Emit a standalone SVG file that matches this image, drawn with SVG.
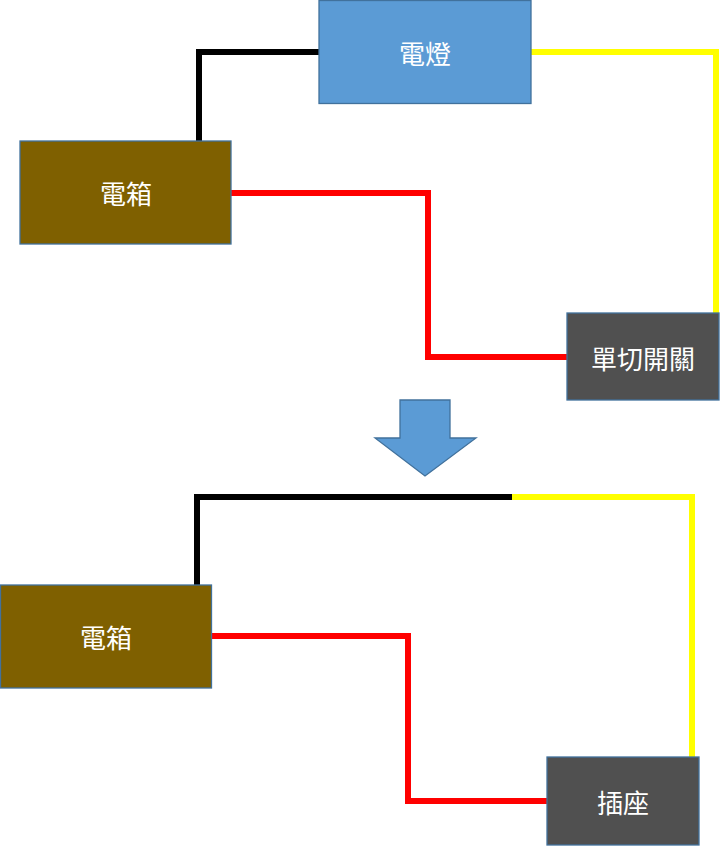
<svg xmlns="http://www.w3.org/2000/svg" width="720" height="847" viewBox="0 0 720 847">
<style>
.w{fill:none;stroke-width:6}
.k{stroke:#000}.y{stroke:#ffff00}.r{stroke:#ff0000}
.box{stroke:#41719c;stroke-width:1.3}
.t{font-family:"Noto Sans CJK TC","Noto Sans CJK SC",sans-serif;font-size:26px;fill:#fff;text-anchor:middle;dominant-baseline:central}
</style>
<rect width="720" height="847" fill="#fff"/>
<g id="connectors">
<polyline class="w k" points="199,141 199,52 319,52"/>
<polyline class="w y" points="531,52 716,52 716,313"/>
<polyline class="w r" points="231,193 428,193 428,357 567,357"/>
<polyline class="w k" points="197,585 197,497 512,497"/>
<polyline class="w y" points="512,497 692,497 692,757"/>
<polyline class="w r" points="211,636 408,636 408,801 547,801"/>
</g>
<g id="lamp"><rect class="box" x="319" y="0.5" width="212" height="103" fill="#5b9bd5"/><text class="t" x="425" y="52">電燈</text></g>
<g id="box1"><rect class="box" x="20" y="141" width="211" height="103" fill="#7f6000"/><text class="t" x="126" y="192">電箱</text></g>
<g id="switch"><rect class="box" x="567" y="313" width="152" height="87" fill="#505050"/><text class="t" x="643" y="357">單切開關</text></g>
<g id="arrow"><polygon points="400,400 450,400 450,438 476,438 425,476 375,438 400,438" fill="#5b9bd5" stroke="#41719c" stroke-width="1.3"/></g>
<g id="box2"><rect class="box" x="0.5" y="585" width="211" height="103" fill="#7f6000"/><text class="t" x="106" y="636">電箱</text></g>
<g id="socket"><rect class="box" x="547" y="757" width="152" height="88" fill="#505050"/><text class="t" x="623" y="801">插座</text></g>
</svg>
